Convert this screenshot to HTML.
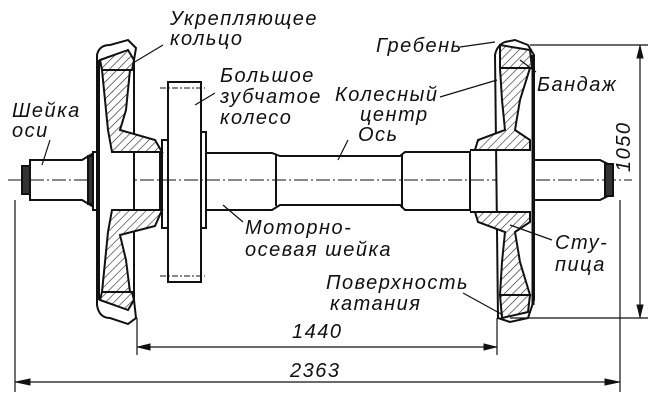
<!DOCTYPE html>
<html><head><meta charset="utf-8"><style>
html,body{margin:0;padding:0;background:#fff;}
svg{display:block}
text{font-family:"Liberation Sans","DejaVu Sans",sans-serif;font-style:italic;font-size:20px;letter-spacing:1.5px;fill:#111;}
</style></head><body>
<svg width="654" height="404" viewBox="0 0 654 404" xmlns="http://www.w3.org/2000/svg">
<defs>
<pattern id="h" width="6" height="6" patternUnits="userSpaceOnUse" patternTransform="rotate(45)">
<rect width="6" height="6" fill="#fff"/><line x1="0" y1="0" x2="0" y2="6" stroke="#222" stroke-width="1.2"/>
</pattern>
</defs>
<g stroke="#111" stroke-width="2" fill="none">
<line x1="8" y1="180" x2="632" y2="180" stroke-width="1" stroke-dasharray="14,3,2,3"/>
<path d="M30 160 L82 160 L92 154 L92 206 L82 200 L30 200 Z"/>
<rect x="22" y="166" width="8" height="28" fill="#333"/>
<rect x="88" y="156" width="5" height="48" fill="#333"/>
<path d="M93 152 L160 152 L160 210 L93 210 Z"/>
<rect x="168" y="82" width="33" height="200"/>
<line x1="160" y1="88" x2="205" y2="88" stroke-width="1" stroke-dasharray="6,2,2,2"/>
<line x1="160" y1="276" x2="205" y2="276" stroke-width="1" stroke-dasharray="6,2,2,2"/>
<rect x="162" y="140" width="6" height="88"/>
<rect x="201" y="132" width="5" height="96"/>
<path d="M206 153 L272 153 L280 156 L400 156 L405 152 L470 152 L470 210 L405 210 L400 205 L280 205 L272 210 L206 210"/>
<line x1="276" y1="155" x2="276" y2="206"/>
<line x1="402" y1="154" x2="402" y2="208"/>
<path d="M470 150 L530 150 L530 212 L470 212"/>
<rect x="528" y="154" width="6" height="54" fill="#333"/>
<path d="M534 160 L600 160 L608 164 L608 196 L600 200 L534 200"/>
<rect x="605" y="164" width="8" height="32" fill="#333"/>
<path d="M97 55 Q99 45 110 45 L128 40 L136 48 L134 60 L134 300 L136 318 L128 324 L110 318 Q99 318 97 305 Z" fill="#fff"/>
<path d="M100 60 L128 50 L134 60 L132 70 L102 70 Z" fill="url(#h)"/>
<path d="M102 70 L130 70 L126 110 L120 130 L155 140 L162 152 L112 152 L108 130 Z" fill="url(#h)"/>
<path d="M102 292 L130 292 L126 260 L120 235 L155 226 L162 210 L112 210 L108 232 Z" fill="url(#h)"/>
<path d="M100 300 L128 310 L134 300 L132 292 L102 292 Z" fill="url(#h)"/>
<line x1="98" y1="60" x2="98" y2="300" stroke-width="4"/>
<path d="M495 55 Q497 45 505 42 L515 40 L528 45 L534 55 L534 300 L528 318 L510 322 L498 318 Z" fill="#fff"/>
<path d="M500 45 L530 50 L532 68 L500 68 Z" fill="url(#h)"/>
<path d="M500 68 L530 68 L520 100 L515 130 L530 140 L530 150 L475 150 L478 140 L505 130 L502 100 Z" fill="url(#h)"/>
<path d="M500 295 L530 295 L520 262 L515 232 L530 222 L530 212 L475 212 L478 222 L505 232 L502 262 Z" fill="url(#h)"/>
<path d="M500 295 L530 295 L528 312 L502 318 Z" fill="url(#h)"/>
<line x1="533" y1="55" x2="533" y2="305" stroke-width="3"/>
<line x1="530" y1="45" x2="648" y2="45" stroke-width="1.2"/>
<line x1="510" y1="318" x2="648" y2="318" stroke-width="1.2"/>
<line x1="640" y1="45" x2="640" y2="318" stroke-width="1.2"/>
<path d="M637 58 L640 46 L643 58 Z M637 305 L640 317 L643 305 Z" fill="#111" stroke-width="1"/>
<line x1="137" y1="318" x2="137" y2="355" stroke-width="1.2"/>
<line x1="497" y1="318" x2="497" y2="355" stroke-width="1.2"/>
<line x1="137" y1="347" x2="497" y2="347" stroke-width="1.2"/>
<path d="M150 344 L138 347 L150 350 Z M484 344 L496 347 L484 350 Z" fill="#111" stroke-width="1"/>
<line x1="15" y1="200" x2="15" y2="392" stroke-width="1.2"/>
<line x1="620" y1="200" x2="620" y2="392" stroke-width="1.2"/>
<line x1="15" y1="382" x2="620" y2="382" stroke-width="1.2"/>
<path d="M30 379 L16 382 L30 385 Z M605 379 L619 382 L605 385 Z" fill="#111" stroke-width="1"/>
<g stroke-width="1.2">
<line x1="163" y1="45" x2="133" y2="63"/>
<line x1="215" y1="93" x2="195" y2="105"/>
<line x1="50" y1="140" x2="42" y2="165"/>
<line x1="460" y1="47" x2="495" y2="42"/>
<line x1="536" y1="72" x2="520" y2="60"/>
<line x1="440" y1="97" x2="497" y2="80"/>
<line x1="348" y1="140" x2="338" y2="160"/>
<line x1="243" y1="222" x2="223" y2="205"/>
<line x1="552" y1="240" x2="510" y2="225"/>
<line x1="463" y1="293" x2="503" y2="315"/>
</g>
</g>
<text x="170" y="25">Укрепляющее</text>
<text x="170" y="45">кольцо</text>
<text x="220" y="82">Большое</text>
<text x="220" y="103">зубчатое</text>
<text x="220" y="124">колесо</text>
<text x="12" y="117">Шейка</text>
<text x="12" y="137">оси</text>
<text x="376" y="52">Гребень</text>
<text x="537" y="91">Бандаж</text>
<text x="335" y="101">Колесный</text>
<text x="360" y="121">центр</text>
<text x="358" y="141">Ось</text>
<text x="245" y="234">Моторно-</text>
<text x="245" y="256">осевая шейка</text>
<text x="555" y="249">Сту-</text>
<text x="555" y="271">пица</text>
<text x="326" y="289">Поверхность</text>
<text x="330" y="310">катания</text>
<text x="292" y="338" font-size="21">1440</text>
<text x="290" y="377" font-size="21">2363</text>
<text transform="translate(630 172) rotate(-90)" font-size="21">1050</text>
</svg>
</body></html>
